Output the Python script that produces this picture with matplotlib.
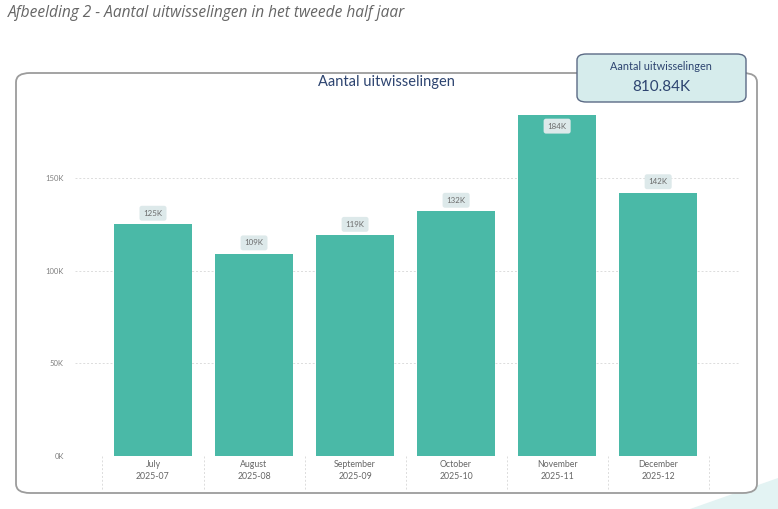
import matplotlib
matplotlib.use("Agg")
import matplotlib.pyplot as plt
from matplotlib.patches import FancyBboxPatch, Polygon
from matplotlib.ticker import FuncFormatter

months = ["July", "August", "September", "October", "November", "December"]
periods = ["2025-07", "2025-08", "2025-09", "2025-10", "2025-11", "2025-12"]
exchanges = [125000, 109000, 119000, 132000, 184000, 142000]
total_label = "810.84K"
yticks = [0, 50000, 100000, 150000]

W, H = 778, 509
BAR = "#4ab9a7"
NAVY = "#2d4470"

plt.rcParams["font.family"] = ["Lato", "DejaVu Sans"]

fig = plt.figure(figsize=(W / 100, H / 100), dpi=100)


def fx(x):
    return x / W


def fy(y):
    return 1 - y / H


# caption above the visual
fig.text(fx(8), fy(13), "Afbeelding 2 - Aantal uitwisselingen in het tweede half jaar",
         fontsize=11.2, style="italic", color="#666666", va="center", ha="left",
         family=["Open Sans", "DejaVu Sans"])

# outer rounded panel (behind the axes)
panel = FancyBboxPatch((fx(16), fy(493)), fx(741), 420 / H,
                       boxstyle="round,pad=0,rounding_size=0.018",
                       transform=fig.transFigure, facecolor="white",
                       edgecolor="#9c9c9c", linewidth=1.3, zorder=-2)
fig.patches.append(panel)

# faint decoration bottom-right
deco = Polygon([(fx(690), fy(509)), (fx(778), fy(478)), (fx(778), fy(509))],
               closed=True, transform=fig.transFigure, facecolor="#e3f3f3",
               edgecolor="none", zorder=-3)
fig.patches.append(deco)

# axes placement in pixels
ax_l, ax_r, ax_b, ax_t = 75, 740, 456, 111.3
ax = fig.add_axes([fx(ax_l), fy(ax_b), (ax_r - ax_l) / W, (ax_b - ax_t) / H])
ax.set_facecolor("none")
ax.set_zorder(1)

x = list(range(len(months)))
ax.bar(x, exchanges, width=0.77, color=BAR, zorder=3)
ax.set_xlim(-0.772, 5.81)
ax.set_ylim(0, 186000)

ax.set_yticks(yticks)
ax.yaxis.set_major_formatter(FuncFormatter(lambda v, p: f"{v / 1000:.0f}K"))
ax.tick_params(axis="y", length=0, pad=8, labelsize=5.5, labelcolor="#808080")
ax.set_xticks([])
ax.grid(axis="y", linestyle=(0, (2, 2)), color="#dcdcdc", linewidth=0.7, zorder=0)
for s in ax.spines.values():
    s.set_visible(False)

# category separators below the axis
sep_tr = ax.get_xaxis_transform()
for i in range(len(months) + 1):
    ax.plot([i - 0.5, i - 0.5], [0, -0.1], transform=sep_tr, clip_on=False,
            color="#dcdcdc", linestyle=(0, (2, 2)), linewidth=0.7)

for i, (m, p) in enumerate(zip(months, periods)):
    ax.text(i, -0.025, m, transform=sep_tr, ha="center", va="center",
            fontsize=6.3, color="#666666")
    ax.text(i, -0.06, p, transform=sep_tr, ha="center", va="center",
            fontsize=6.3, color="#666666")

# value labels
for i, v in enumerate(exchanges):
    inside = v > 175000
    yv = v - 6000 if inside else v + 6000
    ax.text(i, yv, f"{v / 1000:.0f}K", ha="center", va="center", fontsize=5.7,
            color="#6b6b6b", zorder=5,
            bbox=dict(boxstyle="round,pad=0.5,rounding_size=0.3",
                      facecolor="#dde9ea", edgecolor="none"))

# chart title
fig.text(fx(386), fy(82), "Aantal uitwisselingen", ha="center", va="center",
         fontsize=10.5, color=NAVY)

# KPI card
card = FancyBboxPatch((fx(577), fy(102)), (746 - 577) / W, 48 / H,
                      boxstyle="round,pad=0,rounding_size=0.012",
                      transform=fig.transFigure, facecolor="#d6ecec",
                      edgecolor="#5b6a85", linewidth=1.0, zorder=4)
fig.patches.append(card)
fig.text(fx(661), fy(66), "Aantal uitwisselingen", ha="center", va="center",
         fontsize=7.8, color=NAVY, zorder=5)
fig.text(fx(661), fy(87), total_label, ha="center", va="center",
         fontsize=11, color=NAVY, zorder=5)

fig.savefig("out.png", dpi=100)
